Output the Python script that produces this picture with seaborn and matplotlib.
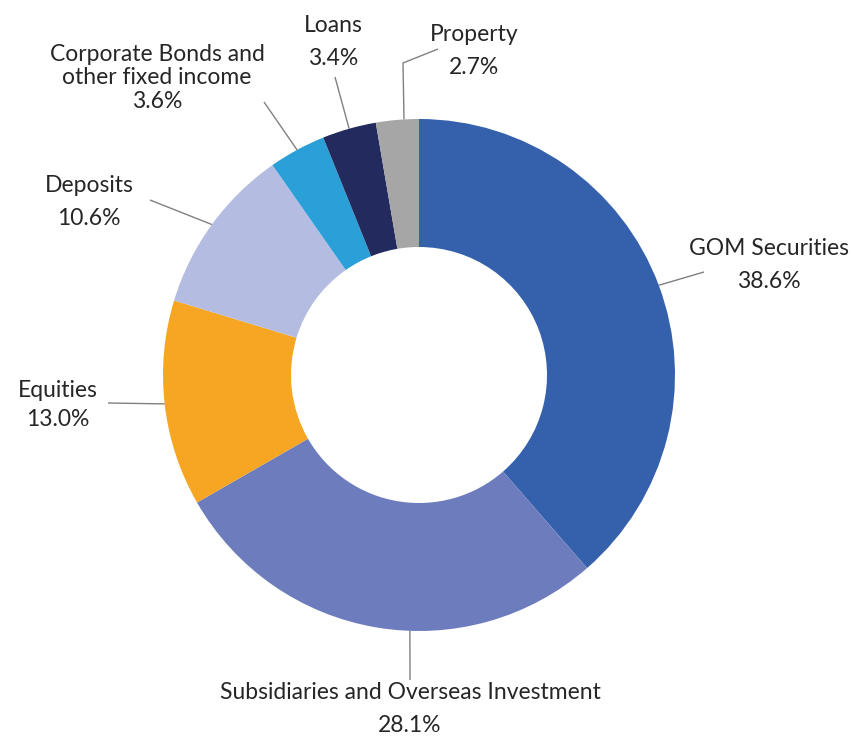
import numpy as np
import matplotlib
matplotlib.use('Agg')
import matplotlib.pyplot as plt
import seaborn as sns

# portfolio split (percent), clockwise from 12 o'clock
categories = ['GOM Securities', 'Subsidiaries and Overseas Investment', 'Equities',
              'Deposits', 'Corporate Bonds and\nother fixed income', 'Loans', 'Property']
shares = [38.6, 28.1, 13.0, 10.6, 3.6, 3.4, 2.7]

palette = ['#3560ac', '#6d7cbc', '#f6a623', '#b4bde1', '#2a9fd8', '#222a5e', '#a6a6a6']

sns.set_theme(style='white')
plt.rcParams['font.family'] = ['Lato', 'DejaVu Sans']

W, H = 852, 736
R = 256          # outer radius in pixels
cx, cy = 419, 375  # pie centre in pixels


def px(x, y):
    # pixel position -> data units (radius 1 pie centred at 0,0)
    return ((x - cx) / R, (cy - y) / R)


fig = plt.figure(figsize=(W / 100, H / 100), dpi=100)
ax = fig.add_axes([0, 0, 1, 1])

wedges, _ = ax.pie(shares, colors=palette, startangle=90, counterclock=False,
                   radius=1, wedgeprops=dict(width=0.5, edgecolor='none'))
ax.set_xlim(-cx / R, (W - cx) / R)
ax.set_ylim((cy - H) / R, cy / R)
ax.set_aspect('equal')
ax.axis('off')

# label placement: text centre, line spacing, leader path (pixels), angle shift of leader start
layout = [
    dict(text=(769, 265), ls=1.7, path=[(704, 272)], shift=0),
    dict(text=(410, 709), ls=1.7, path=[(410, 680)], shift=7.5),
    dict(text=(58, 405), ls=1.48, path=[(108, 403)], shift=0),
    dict(text=(89, 202), ls=1.7, path=[(150, 200)], shift=0),
    dict(text=(157, 78), ls=1.12, path=[(264, 102)], shift=0),
    dict(text=(333, 42), ls=1.7, path=[(335, 77)], shift=0),
    dict(text=(474, 51), ls=1.7, path=[(403, 63), (438, 49)], shift=-1.5),
]

for w, name, val, lay in zip(wedges, categories, shares, layout):
    ang = np.deg2rad((w.theta1 + w.theta2) / 2 + lay['shift'])
    xs = [np.cos(ang)]
    ys = [np.sin(ang)]
    for p in lay['path']:
        dx, dy = px(*p)
        xs.append(dx)
        ys.append(dy)
    ax.plot(xs, ys, color='#808080', lw=1.0, solid_capstyle='butt')
    tx, ty = px(*lay['text'])
    ax.text(tx, ty, f'{name}\n{val:.1f}%', ha='center', va='center',
            fontsize=16.5, color='#262626', linespacing=lay['ls'])

fig.savefig('out.png', dpi=100)
